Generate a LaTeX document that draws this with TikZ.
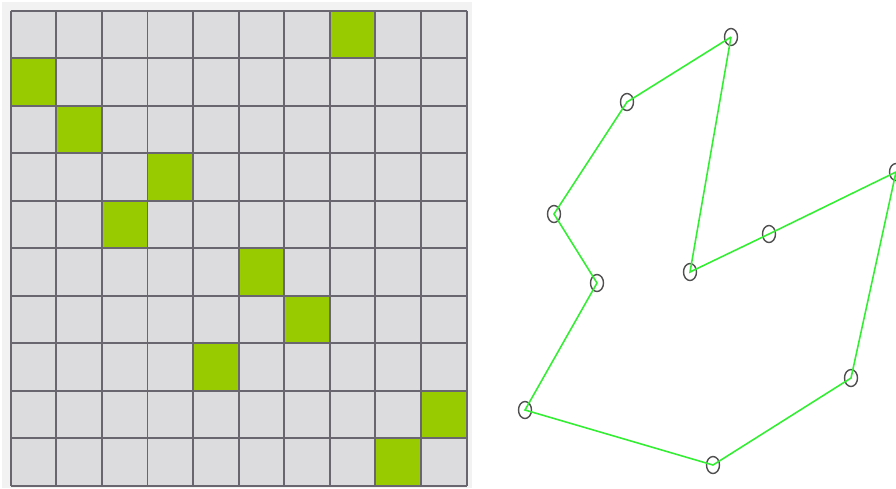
\documentclass[tikz,border=0pt]{standalone}
\usetikzlibrary{shapes.geometric}
\definecolor{cellbg}  {HTML}{DCDBDD}
\definecolor{gridline}{HTML}{6A6670}
\definecolor{hit}     {HTML}{99CC00}
\definecolor{route}   {HTML}{33EE33}
\definecolor{ring}    {HTML}{505050}

\begin{document}
\begin{tikzpicture}[x=0.02cm, y=-0.02cm,
    city/.style={ellipse, draw=ring, line width=0.8pt, minimum width=0.26cm,
                 minimum height=0.34cm, inner sep=0pt},
    leg/.style={route, line width=0.9pt}]
    \useasboundingbox (0,0) rectangle (896,488);
    \fill[gray!10] (2,2) rectangle (472,488);

    % board
    \begin{scope}[shift={(10.7,10.7)}, x=0.912cm, y=-0.95cm]
      \fill[cellbg] (0,0) rectangle (10,10);
      \foreach \c/\r in {7/0, 0/1, 1/2, 3/3, 2/4, 5/5, 6/6, 4/7, 9/8, 8/9}
        \fill[hit] (\c,\r) rectangle ++(1,1);
      \foreach \i in {0,...,10} {
        \draw[gridline, line width=1.1pt] (\i,0) -- (\i,10);
        \draw[gridline, line width=1.1pt] (0,\i) -- (10,\i);
      }
    \end{scope}

    % tour
    \node[city] (c1)  at (731, 37)  {};
    \node[city] (c2)  at (627, 102) {};
    \node[city] (c3)  at (554, 214) {};
    \node[city] (c4)  at (597, 283) {};
    \node[city] (c5)  at (525, 410) {};
    \node[city] (c6)  at (713, 465) {};
    \node[city] (c7)  at (851, 378) {};
    \node[city] (c8)  at (896, 172) {};
    \node[city] (c9)  at (769, 234) {};
    \node[city] (c10) at (690, 272) {};

    \draw[leg] (c1.center) -- (c2.center) -- (c3.center) -- (c4.center)
      -- (c5.center) -- (c6.center) -- (c7.center) -- (c8.center)
      -- (c9.center) -- (c10.center) -- (c1.center);
  \end{tikzpicture}
\end{document}
